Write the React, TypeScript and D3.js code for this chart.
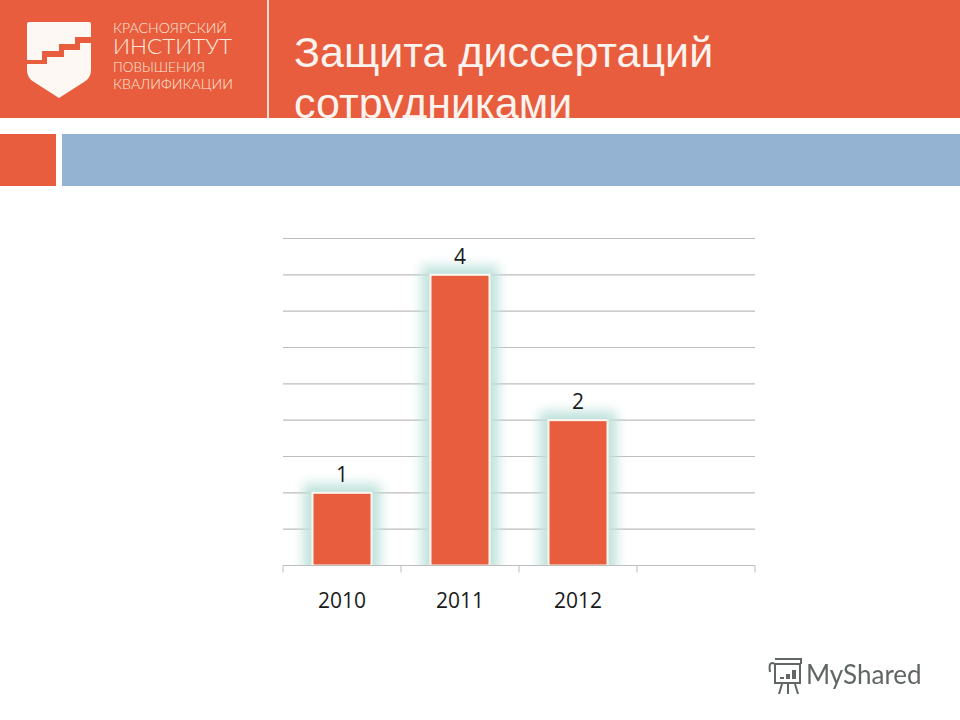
import * as d3 from "d3";

const years = ["2010", "2011", "2012", ""];
const defences = [1, 4, 2];
const valueTicks = [0, 0.5, 1, 1.5, 2, 2.5, 3, 3.5, 4, 4.5];
const titleLines = ["Защита диссертаций", "сотрудниками"];
const logoLines = ["КРАСНОЯРСКИЙ", "ИНСТИТУТ", "ПОВЫШЕНИЯ", "КВАЛИФИКАЦИИ"];

const ORANGE = "#e85d3d";
const BLUE = "#94b3d2";
const GRID = "#bdbdbd";

const W = 960;
const H = 720;
const PLOT = { left: 283, right: 755, top: 238.5, bottom: 565.5 };

// header logo: shield with the stepped stripe, hand placed
const SHIELD =
  "M29 22H89Q91 22 91 24V70Q91 78 84 82L59 98L34 82Q27 78 27 70V24Q27 22 29 22Z";
const STRIPE =
  "M27 60H42V51H59V44H75V37H91V43H80V50H64V57H47V64H27Z";

export default function App() {
  const x = d3
    .scaleBand<string>()
    .domain(years)
    .range([PLOT.left, PLOT.right])
    .paddingInner(0.5)
    .paddingOuter(0.25);
  const y = d3
    .scaleLinear()
    .domain([0, 4.5])
    .range([PLOT.bottom, PLOT.top]);
  const step = x.step();
  // tick marks sit between the categories, plus both ends
  const bandEdges = d3.range(years.length + 1).map((i) => PLOT.left + i * step);

  return (
    <svg
      width={W}
      height={H}
      viewBox={`0 0 ${W} ${H}`}
      style={{ position: "absolute", left: 0, top: 0, display: "block", background: "#fff" }}
    >
      <defs>
        <filter id="glow" x="-60%" y="-60%" width="220%" height="220%">
          <feGaussianBlur stdDeviation="6" />
        </filter>
        <filter id="soft" x="-5%" y="-5%" width="110%" height="110%">
          <feGaussianBlur stdDeviation="0.5" />
        </filter>
        <clipPath id="header-clip">
          <rect x={0} y={0} width={W} height={118} />
        </clipPath>
        {/* glow must stop at the axis line */}
        <clipPath id="plot-clip">
          <rect x={PLOT.left} y={PLOT.top - 20} width={PLOT.right - PLOT.left} height={PLOT.bottom - PLOT.top + 20} />
        </clipPath>
      </defs>

      {/* --- slide header --- */}
      <rect x={0} y={0} width={W} height={118} fill={ORANGE} />
      <rect x={267} y={0} width={2} height={118} fill="#f6d9cf" />
      <rect x={0} y={134} width={56} height={52} fill={ORANGE} />
      <rect x={62} y={134} width={898} height={52} fill={BLUE} />

      <path d={SHIELD} fill="#fdf8f3" />
      <path d={STRIPE} fill={ORANGE} />
      <g fontFamily="Lato, sans-serif" fontWeight={300} fill="#fbe9dc">
        <text x={113} y={33} fontSize={13} textLength={114} lengthAdjust="spacingAndGlyphs">
          {logoLines[0]}
        </text>
        <text x={113} y={54} fontSize={22} textLength={119} lengthAdjust="spacingAndGlyphs">
          {logoLines[1]}
        </text>
        <text x={113} y={72} fontSize={13} textLength={92} lengthAdjust="spacingAndGlyphs">
          {logoLines[2]}
        </text>
        <text x={113} y={89} fontSize={13} textLength={120} lengthAdjust="spacingAndGlyphs">
          {logoLines[3]}
        </text>
      </g>
      <g
        clipPath="url(#header-clip)"
        fontFamily="'Liberation Sans', Arial, sans-serif"
        fontSize={43}
        fill="#fdf3ee"
      >
        <text x={294} y={67}>{titleLines[0]}</text>
        <text x={294} y={118}>{titleLines[1]}</text>
      </g>

      {/* --- gridlines --- */}
      {valueTicks.map((t) => (
        <line
          key={t}
          x1={PLOT.left}
          x2={PLOT.right}
          y1={y(t)}
          y2={y(t)}
          stroke={GRID}
          strokeWidth={1.2}
        />
      ))}
      {bandEdges.map((ex) => (
        <line
          key={ex}
          x1={ex}
          x2={ex}
          y1={PLOT.bottom}
          y2={PLOT.bottom + 7}
          stroke={GRID}
          strokeWidth={1}
        />
      ))}

      {/* --- bars: teal glow, then white edged fill --- */}
      <g clipPath="url(#plot-clip)">
        {defences.map((v, i) => (
          <rect
            key={years[i]}
            x={(x(years[i]) as number) - 9}
            y={y(v) - 9}
            width={x.bandwidth() + 18}
            height={y(0) - y(v) + 20}
            fill="#bfe2dc"
            filter="url(#glow)"
          />
        ))}
      </g>
      {defences.map((v, i) => (
        <rect
          key={years[i]}
          x={x(years[i])}
          y={y(v)}
          width={x.bandwidth()}
          height={y(0) - y(v)}
          fill={ORANGE}
          stroke="#fdf6ef"
          strokeWidth={2}
        />
      ))}
      <line
        x1={PLOT.left}
        x2={PLOT.right}
        y1={y(0)}
        y2={y(0)}
        stroke={GRID}
        strokeWidth={1.2}
      />

      {/* --- value and year labels --- */}
      <g fontFamily="'Open Sans', sans-serif" fontSize={21} fill="#1a1a1a" textAnchor="middle">
        {defences.map((v, i) => (
          <text key={years[i]} x={(x(years[i]) as number) + x.bandwidth() / 2} y={y(v) - 11}>
            {v}
          </text>
        ))}
        {years.map((yr) => (
          <text key={yr || "blank"} x={(x(yr) as number) + x.bandwidth() / 2} y={608}>
            {yr}
          </text>
        ))}
      </g>

      {/* --- watermark --- */}
      <g filter="url(#soft)">
        <g stroke="#5f6664" strokeWidth={2} fill="none">
          <rect x={775} y={664} width={25} height={19} />
          <path d="M775 664Q768 660 770 672M775 659H801V664M782 684L779 694M788 684V694M795 684L798 694" />
        </g>
        <g fill="#5f6664">
          {[2, 5, 9].map((h, i) => (
            <rect key={h} x={780 + i * 6} y={679 - h} width={4} height={h} />
          ))}
        </g>
        <text x={806} y={684} fontFamily="Lato, sans-serif" fontSize={26} fill="#5f6664">
          MyShared
        </text>
      </g>
    </svg>
  );
}
